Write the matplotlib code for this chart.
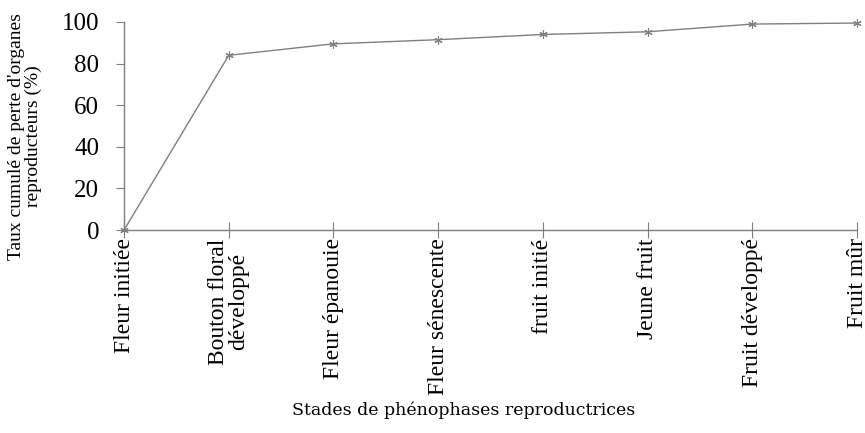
import numpy as np
import matplotlib.pyplot as plt

# Données
stades = ['Fleur initiée', 'Bouton floral\ndéveloppé', 'Fleur épanouie', 'Fleur sénescente',
          'fruit initié', 'Jeune fruit', 'Fruit développé', 'Fruit mûr']
taux = [0, 84, 89.5, 91.5, 94, 95.3, 99, 99.5]
yticks = [0, 20, 40, 60, 80, 100]

gris = '#7f7f7f'
plt.rcParams['font.family'] = ['Liberation Serif', 'DejaVu Serif']

fig = plt.figure(figsize=(8.65, 4.33), dpi=100)
ax = fig.add_axes([0.1434, 0.4688, 0.8474, 0.4804])

x = np.arange(len(stades))
ax.plot(x, taux, '-', color=gris, lw=1.0, marker=(6, 2, 0), ms=6, mec=gris, mew=0.8)

ax.set_xlim(0, len(stades) - 1)
ax.set_ylim(0, 100)
ax.set_yticks(yticks)
ax.set_xticks(x)
ax.set_xticklabels(stades, rotation=90, fontsize=17, va='top', linespacing=0.95)
ax.tick_params(axis='y', labelsize=18, length=6, color=gris, pad=12)
ax.tick_params(axis='x', direction='inout', length=12, color=gris, pad=0)

for s in ['top', 'right']:
    ax.spines[s].set_visible(False)
for s in ['left', 'bottom']:
    ax.spines[s].set_color(gris)
    ax.spines[s].set_linewidth(1.0)
for l in ax.lines:
    l.set_clip_on(False)

ax.set_ylabel("Taux cumulé de perte d'organes\nreproducteurs (%)", fontsize=14, linespacing=1.0)
ax.yaxis.set_label_coords(-0.112, 0.45)

fig.text(0.536, 0.052, 'Stades de phénophases reproductrices', ha='center', va='center',
         fontsize=12.5, family=['DejaVu Serif'])

fig.savefig('out.png', dpi=100)
